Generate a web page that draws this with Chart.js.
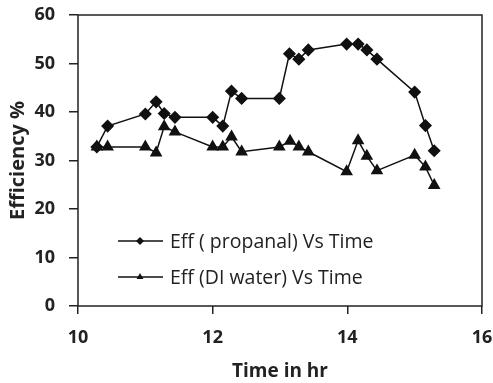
<!DOCTYPE html>
<html lang="en">
<head>
    <meta charset="UTF-8">
    <title>Efficiency vs Time</title>
    <script src="https://cdn.jsdelivr.net/npm/chart.js"></script>
    <style>
        html, body { margin: 0; padding: 0; background: #fff; }
        #box { width: 493px; height: 383px; }
    </style>
</head>
<body>
    <div id="box">
        <canvas id="grafico"></canvas>
    </div>
<script>
    // dados
    const tempoPropanal = [10.28, 10.44, 11.0, 11.16, 11.28, 11.44, 12.0, 12.15, 12.28, 12.43, 12.99, 13.14, 13.28, 13.42, 13.99, 14.16, 14.29, 14.44, 15.0, 15.16, 15.29];
    const effPropanal = [32.8, 37.1, 39.6, 42.1, 39.7, 38.9, 38.9, 37.1, 44.3, 42.8, 42.8, 52.0, 50.9, 52.8, 54.0, 54.0, 52.8, 50.9, 44.1, 37.2, 32.0];
    const tempoAgua = [10.28, 10.44, 11.0, 11.16, 11.28, 11.44, 12.0, 12.15, 12.28, 12.43, 12.99, 13.15, 13.28, 13.42, 13.99, 14.16, 14.29, 14.44, 15.0, 15.16, 15.29];
    const effAgua = [32.8, 32.8, 32.8, 31.6, 37.0, 35.9, 32.8, 32.8, 34.9, 31.8, 32.8, 34.0, 32.8, 31.8, 27.7, 34.1, 30.9, 27.9, 31.1, 28.7, 24.9];
    const ticksX = [10, 12, 14, 16];
    const ticksY = [0, 10, 20, 30, 40, 50, 60];
    const nomes = ['Eff ( propanal) Vs Time', 'Eff (DI water) Vs Time'];

    const fonte = '"Open Sans", sans-serif';
    const corTexto = '#222';

    function pares(xs, ys) {
        return xs.map((x, i) => ({ x: x, y: ys[i] }));
    }

    // moldura em volta da área do gráfico
    const moldura = {
        id: 'moldura',
        afterDraw(chart) {
            const a = chart.chartArea;
            const ctx = chart.ctx;
            ctx.save();
            ctx.strokeStyle = '#222';
            ctx.lineWidth = 1.5;
            ctx.strokeRect(a.left, a.top, a.right - a.left, a.bottom - a.top);
            ctx.restore();
        }
    };

    // legenda desenhada dentro da área
    const legendaInterna = {
        id: 'legendaInterna',
        afterDraw(chart) {
            const ctx = chart.ctx;
            ctx.save();
            ctx.font = '19.5px ' + fonte;
            ctx.textBaseline = 'middle';
            const linhas = [241, 277];
            chart.data.datasets.forEach((ds, i) => {
                const y = linhas[i];
                ctx.strokeStyle = ds.borderColor;
                ctx.lineWidth = 1.5;
                ctx.beginPath();
                ctx.moveTo(118, y);
                ctx.lineTo(163, y);
                ctx.stroke();
                ctx.fillStyle = ds.pointBackgroundColor;
                Chart.helpers.drawPoint(ctx, { pointStyle: ds.pointStyle, radius: 4, rotation: 0, borderWidth: 0 }, 140, y);
                ctx.fillStyle = corTexto;
                ctx.fillText(ds.label, 170, y + 1);
            });
            ctx.restore();
        }
    };

    new Chart(document.getElementById('grafico'), {
        type: 'scatter',
        data: {
            datasets: [{
                label: nomes[0],
                data: pares(tempoPropanal, effPropanal),
                order: 2,
                showLine: true,
                borderColor: '#111',
                borderWidth: 1.5,
                pointStyle: 'rectRot',
                pointRadius: 5.5,
                pointBackgroundColor: '#111',
                pointBorderColor: '#111',
                tension: 0
            }, {
                label: nomes[1],
                data: pares(tempoAgua, effAgua),
                order: 1,
                showLine: true,
                borderColor: '#111',
                borderWidth: 1.5,
                pointStyle: 'triangle',
                pointRadius: 5.8,
                pointBackgroundColor: '#111',
                pointBorderColor: '#111',
                tension: 0
            }]
        },
        options: {
            responsive: true,
            maintainAspectRatio: false,
            animation: false,
            layout: { padding: { top: 15, right: 11, left: 0, bottom: 0 } },
            plugins: {
                legend: { display: false },
                tooltip: { enabled: false }
            },
            scales: {
                x: {
                    type: 'linear',
                    min: 10,
                    max: 16,
                    afterBuildTicks: (s) => { s.ticks = ticksX.map(v => ({ value: v })); },
                    afterFit: (s) => { s.height = 77; s.paddingLeft = 0; s.paddingRight = 0; },
                    border: { display: false },
                    grid: { drawOnChartArea: false, color: '#222', tickLength: 8, lineWidth: 1.5 },
                    ticks: { padding: 13, color: corTexto, font: { family: fonte, size: 18, weight: 'bold' } },
                    title: {
                        display: true,
                        text: 'Time in hr',
                        color: corTexto,
                        padding: { top: 0, bottom: 0 },
                        font: { family: fonte, size: 19, weight: 'bold' }
                    }
                },
                y: {
                    min: 0,
                    max: 60,
                    afterBuildTicks: (s) => { s.ticks = ticksY.map(v => ({ value: v })); },
                    afterFit: (s) => { s.width = 78; s.paddingTop = 0; s.paddingBottom = 0; },
                    border: { display: false },
                    grid: { drawOnChartArea: false, color: '#222', tickLength: 9, lineWidth: 1.5 },
                    ticks: { padding: 14, color: corTexto, font: { family: fonte, size: 18, weight: 'bold' } },
                    title: {
                        display: true,
                        text: 'Efficiency %',
                        color: corTexto,
                        padding: { top: 6, bottom: 0 },
                        font: { family: fonte, size: 20, weight: 'bold' }
                    }
                }
            }
        },
        plugins: [moldura, legendaInterna]
    });
</script>
</body>
</html>
